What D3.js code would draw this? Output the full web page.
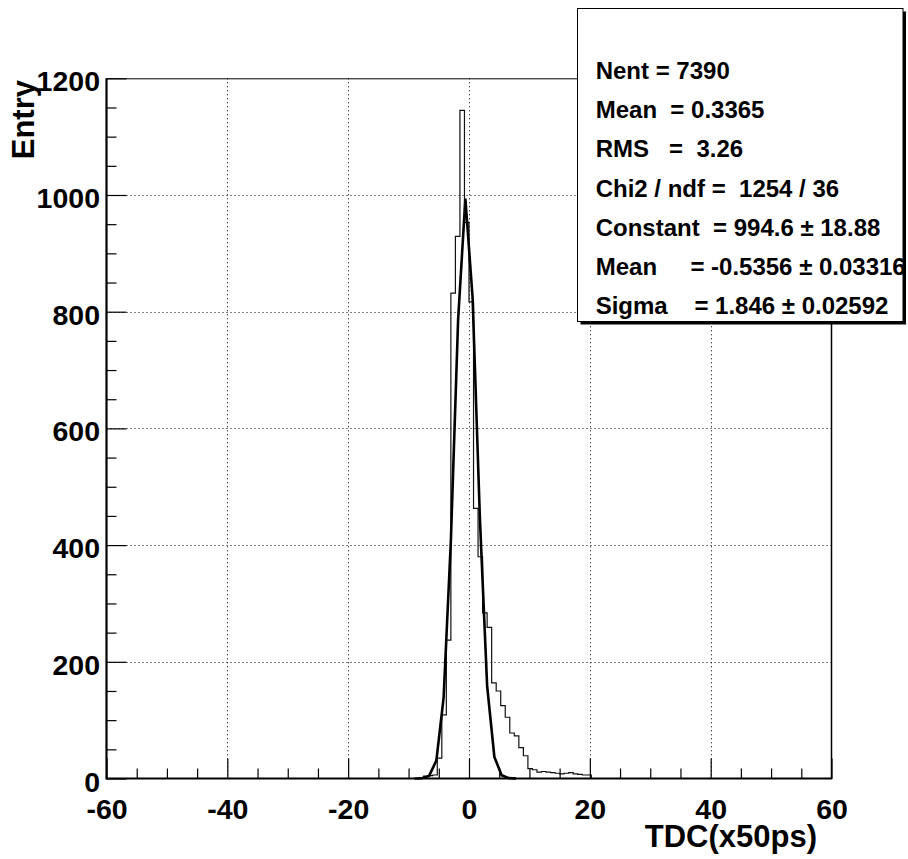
<!DOCTYPE html>
<html>
<head>
<meta charset="utf-8">
<script src="https://cdn.jsdelivr.net/npm/d3@7"></script>
<style>
  html, body { margin: 0; padding: 0; background: #fff; }
  svg { display: block; }
  text { font-family: "Liberation Sans", Arial, Helvetica, sans-serif; font-weight: bold; fill: #000; }
</style>
</head>
<body>
<svg id="chart" width="908" height="859"></svg>
<script>
// TDC histogram: 160 bins of 0.75 between -60 and 60
const binLow = -60;
const binWidth = 0.75;
const counts = [
  0,0,0,0,0,0,0,0,0,0, 0,0,0,0,0,0,0,0,0,0,
  0,0,0,0,0,0,0,0,0,0, 0,0,0,0,0,0,0,0,0,0,
  0,0,0,0,0,0,0,0,0,0, 0,0,0,0,0,0,0,0,0,0,
  0,0,0,0,0,0,0,0,0,1, 4,5,6,35,109,237,832,929,1145,953,
  817,463,380,284,259,164,150,125,105,78, 73,53,39,17,15,11,12,11,10,9,
  8,9,10,8,7,6,6,0,0,0, 0,0,0,0,0,0,0,0,0,0,
  0,0,0,0,0,0,0,0,0,0, 0,0,0,0,0,0,0,0,0,0,
  0,0,0,0,0,0,0,0,0,0, 0,0,0,0,0,0,0,0,0,0
];

// Gaussian fit result
const fitConstant = 994.6;
const fitMean = -0.5356;
const fitSigma = 1.846;
const fitNpx = 100;           // function sampled at the centres of 100 steps over the axis range

// Axis ticks
const xMajor = [-60, -40, -20, 0, 20, 40, 60];
const yMajor = [0, 200, 400, 600, 800, 1000, 1200];
const xGrid = [-40, -20, 0, 20, 40];
const yGrid = [200, 400, 600, 800, 1000];
const xMinorStep = 5;
const yMinorStep = 50;

const xTitle = "TDC(x50ps)";
const yTitle = "Entry";

// Statistics box lines
const statLines = [
  "Nent = 7390",
  "Mean  = 0.3365",
  "RMS   =  3.26",
  "Chi2 / ndf =  1254 / 36",
  "Constant  = 994.6 \u00b1 18.88",
  "Mean     = -0.5356 \u00b1 0.03316",
  "Sigma    = 1.846 \u00b1 0.02592"
];

const svg = d3.select("#chart");
const frame = { left: 106.5, right: 831.5, top: 78.3, bottom: 778.5 };

const x = d3.scaleLinear().domain([-60, 60]).range([frame.left, frame.right]);
const y = d3.scaleLinear().domain([0, 1200]).range([frame.bottom, frame.top]);

// dotted grid
const grid = svg.append("g").attr("stroke", "#000").attr("stroke-width", 1).attr("stroke-dasharray", "1,3");
grid.selectAll("line.gx").data(xGrid).join("line").attr("class", "gx")
  .attr("x1", d => Math.round(x(d)) + 0.5).attr("x2", d => Math.round(x(d)) + 0.5)
  .attr("y1", frame.top).attr("y2", frame.bottom);
grid.selectAll("line.gy").data(yGrid).join("line").attr("class", "gy")
  .attr("y1", d => Math.round(y(d)) + 0.5).attr("y2", d => Math.round(y(d)) + 0.5)
  .attr("x1", frame.left).attr("x2", frame.right);

// histogram outline (step)
const edges = counts.map((c, i) => [binLow + i * binWidth, c]);
edges.push([binLow + counts.length * binWidth, counts[counts.length - 1]]);
const histLine = d3.line().x(d => x(d[0])).y(d => y(d[1])).curve(d3.curveStepAfter);
svg.append("path").datum(edges)
  .attr("d", histLine).attr("fill", "none").attr("stroke", "#111").attr("stroke-width", 1.2);

// fitted gaussian
const dx = (x.domain()[1] - x.domain()[0]) / fitNpx;
const gaus = v => fitConstant * Math.exp(-0.5 * Math.pow((v - fitMean) / fitSigma, 2));
const fitPts = d3.range(fitNpx).map(i => x.domain()[0] + (i + 0.5) * dx)
  .map(v => [v, gaus(v)]).filter(d => d[1] >= 0.01);
svg.append("path").datum(fitPts)
  .attr("d", d3.line().x(d => x(d[0])).y(d => y(d[1])))
  .attr("fill", "none").attr("stroke", "#000").attr("stroke-width", 2.6).attr("stroke-linejoin", "miter");

// axes: ticks inside the frame
const fontAxis = 28.5;
const xMinor = d3.range(-60, 60.001, xMinorStep).filter(v => !xMajor.includes(v));
const yMinor = d3.range(0, 1200.001, yMinorStep).filter(v => !yMajor.includes(v));
const signed = d => d < 0 ? "-" + Math.abs(d) : String(d);

const gxMajor = svg.append("g").attr("transform", `translate(0,${frame.bottom})`)
  .call(d3.axisBottom(x).tickValues(xMajor).tickSizeInner(-20).tickSizeOuter(0).tickPadding(20).tickFormat(signed));
const gxMinor = svg.append("g").attr("transform", `translate(0,${frame.bottom})`)
  .call(d3.axisBottom(x).tickValues(xMinor).tickSizeInner(-10).tickSizeOuter(0).tickFormat(() => ""));
const gyMajor = svg.append("g").attr("transform", `translate(${frame.left},0)`)
  .call(d3.axisLeft(y).tickValues(yMajor).tickSizeInner(-20).tickSizeOuter(0).tickPadding(6.5).tickFormat(d3.format("d")));
const gyMinor = svg.append("g").attr("transform", `translate(${frame.left},0)`)
  .call(d3.axisLeft(y).tickValues(yMinor).tickSizeInner(-10).tickSizeOuter(0).tickFormat(() => ""));

[gxMajor, gxMinor, gyMajor, gyMinor].forEach(g => {
  g.selectAll(".domain").remove();
  g.selectAll("line").attr("stroke", "#000").attr("stroke-width", 1.2);
});
[gxMinor, gyMinor].forEach(g => g.selectAll("text").remove());
gxMajor.selectAll("text").style("font-size", fontAxis + "px").attr("fill", "#000");
gyMajor.selectAll("text").style("font-size", fontAxis + "px").attr("fill", "#000").attr("dy", "0.44em");

// frame
svg.append("line").attr("x1", frame.left).attr("x2", frame.right).attr("y1", frame.top + 0.5).attr("y2", frame.top + 0.5)
  .attr("stroke", "#000").attr("stroke-width", 1);
svg.append("line").attr("x1", frame.right).attr("x2", frame.right).attr("y1", frame.top).attr("y2", frame.bottom)
  .attr("stroke", "#000").attr("stroke-width", 1.5);
svg.append("line").attr("x1", frame.left).attr("x2", frame.right + 0.75).attr("y1", frame.bottom).attr("y2", frame.bottom)
  .attr("stroke", "#000").attr("stroke-width", 2.2);
svg.append("line").attr("x1", frame.left).attr("x2", frame.left).attr("y1", frame.top).attr("y2", frame.bottom + 1.1)
  .attr("stroke", "#000").attr("stroke-width", 2.2);

// axis titles
svg.append("text").attr("x", 817).attr("y", 847).attr("text-anchor", "end")
  .style("font-size", "31px").text(xTitle);
svg.append("text").attr("transform", "translate(34,80) rotate(-90)").attr("text-anchor", "end")
  .style("font-size", "31px").text(yTitle);

// statistics box with shadow
const box = { x0: 577.5, y0: 8.5, x1: 903, y1: 321.5 };
svg.append("rect").attr("x", box.x0 + 3).attr("y", box.y0 + 3)
  .attr("width", box.x1 - box.x0).attr("height", box.y1 - box.y0).attr("fill", "#000");
svg.append("rect").attr("x", box.x0).attr("y", box.y0)
  .attr("width", box.x1 - box.x0).attr("height", box.y1 - box.y0)
  .attr("fill", "#fff").attr("stroke", "#000").attr("stroke-width", 1);
svg.append("g").selectAll("text").data(statLines).join("text")
  .attr("x", 595.7).attr("y", (d, i) => 79 + i * 39.2)
  .attr("xml:space", "preserve").style("white-space", "pre")
  .style("font-size", "24px").text(d => d);
</script>
</body>
</html>
